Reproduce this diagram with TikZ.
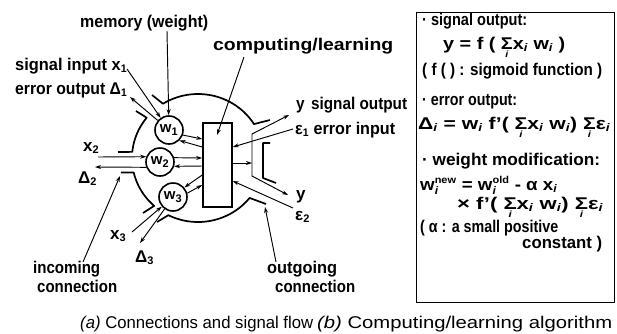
\documentclass[tikz,border=0pt]{standalone}
\usepackage{fontspec}
\setmainfont{Liberation Sans}
\usepackage{graphicx}
\usetikzlibrary{arrows.meta,calc}
\newsavebox\fitbox
\newcommand\fitto[2]{\sbox\fitbox{#2}\pgfmathsetmacro\fitratio{#1/\the\wd\fitbox}\scalebox{\fitratio}[1]{\usebox\fitbox}}
\newcommand\subf{\fontsize{11}{11}\selectfont}
\newcommand\sub[1]{$_{\hbox{\subf #1}}$}
\newcommand\isub{\sub{\itshape i}}
\newcommand\supsub[2]{$^{\hbox{\fontsize{10}{10}\selectfont #1}}_{\hbox{\subf\itshape #2}}$}
\newcommand\sumi{$\mathop{\hbox{\fontsize{17}{17}\selectfont Σ}}\limits_{\hbox{\fontsize{9}{9}\selectfont\itshape i}}$}
\begin{document}
\begin{tikzpicture}[x=1pt,y=-1pt,
  lbl/.style={inner sep=0pt, anchor=base west, font=\fontsize{17}{19}\selectfont\bfseries},
  captxt/.style={inner sep=0pt, anchor=base west, font=\fontsize{17}{19}\selectfont},
  contour/.style={line width=1.7pt, line join=round},
  arr/.style={line width=0.95pt, -{Stealth[length=6pt,width=4pt]}},
  arrb/.style={line width=0.95pt, {Stealth[length=6pt,width=4pt]}-{Stealth[length=6pt,width=4pt]}},
  wc/.style={circle, draw, line width=1.6pt, minimum size=28pt, inner sep=0pt, font=\fontsize{15}{17}\selectfont\bfseries}]
\fill[white] (0,0) rectangle (617,333);
\useasboundingbox (0,0) rectangle (617,333);

% ---------- neuron body ----------
\def\cx{198}\def\cy{158}\def\rx{66}\def\ry{64}
\draw[contour] (152,95) -- plot[domain=238:328, samples=40] ({\cx+\rx*cos(\x)},{\cy+\ry*sin(\x)}) -- (270,120);
\draw[contour] (266,204) -- plot[domain=38.6:116.7, samples=40] ({\cx+\rx*cos(\x)},{\cy+\ry*sin(\x)}) -- (157,222);
\draw[contour] (143,213) -- plot[domain=131.6:167, samples=20] ({\cx+\rx*cos(\x)},{\cy+\ry*sin(\x)}) -- (121,172.4);
\draw[contour] (118,152) -- plot[domain=185.5:219, samples=20] ({\cx+\rx*cos(\x)},{\cy+\ry*sin(\x)}) -- (136,111);
\draw[contour] (270,143) -- (263,143) -- (263,178) -- (276,183);

% ---------- weights and processor ----------
\node[wc] (w1) at (169,130) {w\sub{1}};
\node[wc] (w2) at (160,162) {w\sub{2}};
\node[wc] (w3) at (173,197) {w\sub{3}};
\node[draw, line width=1.6pt, minimum width=29pt, minimum height=84pt, inner sep=0pt] (cpu) at (217.5,165) {};

% ---------- labels ----------
\node[lbl] (mem) at (80,27) {\fitto{128}{memory (weight)}};
\node[lbl] (sin) at (15,70) {\fitto{112}{signal input x\sub{1}}};
\node[lbl] (eout) at (15,94) {\fitto{112}{error output Δ\sub{1}}};
\node[lbl] (comp) at (213,50) {\fitto{180}{computing/learning}};
\node[lbl] (x2) at (83,151) {x\sub{2}};
\node[lbl] (d2) at (78,183) {Δ\sub{2}};
\node[lbl] (x3) at (110,239) {x\sub{3}};
\node[lbl] (d3) at (135,262) {Δ\sub{3}};
\node[lbl] (inc1) at (33,273) {\fitto{67}{incoming}};
\node[lbl] (inc2) at (37,292) {\fitto{80}{connection}};
\node[lbl] (out1) at (267,273) {\fitto{70}{outgoing}};
\node[lbl] (out2) at (275,292) {\fitto{80}{connection}};
\node[lbl] (yo) at (296,109) {\fitto{111}{y\hspace{7pt}signal output}};
\node[lbl] (e1) at (295,134) {\fitto{100}{ε\sub{1} error input}};
\node[lbl] (y2) at (296,199) {y};
\node[lbl] (e2) at (295,220) {ε\sub{2}};

% ---------- connectors ----------
\coordinate (memt) at (167,31);
\coordinate (x1s) at (127,69);
\coordinate (d1e) at (130,97);
\coordinate (comps) at (244,57);
\coordinate (compt) at (217,135);
\coordinate (x2s) at (98,157);
\coordinate (d2e) at (95,167);
\coordinate (x3s) at (132,232);
\coordinate (d3e) at (140,243);
\coordinate (incs) at (83,262);
\coordinate (inct) at (120,176);
\coordinate (outs) at (276,262);
\coordinate (outt) at (265,207);
\coordinate (e1s) at (293,129);
\coordinate (e2s) at (293,208);
\coordinate (yup) at (289,115);
\coordinate (bt) at (252,134);
\coordinate (bb) at (252,176);
\coordinate (ylo) at (288,195);
\coordinate (mid) at ([yshift=2pt]cpu.east);

\draw[arr] (memt) -- (w1);
\draw[arr] (x1s) -- (w1);
\draw[arr] (w1) -- (d1e);
\draw[arr] (comps) -- (compt);
\draw[arr] (x2s) -- (w2.159);
\draw[arr] (w2.201) -- (d2e);
\draw[arr] (x3s) -- (w3);
\draw[arr] (w3.235) -- (d3e);
\draw[arr] (incs) -- (inct);
\draw[arr] (outs) -- (outt);

\draw[arr] (w1.-20) -- ([yshift=26pt]cpu.west);
\draw[arr] ([yshift=18pt]cpu.west) -- (w1.-45);
\draw[arr] (w2.17) -- ([yshift=7pt]cpu.west);
\draw[arr] ([yshift=-1pt]cpu.west) -- (w2.-17);
\draw[arr] ([yshift=-10pt]cpu.west) -- (w3.40);
\draw[arr] (w3.15) -- ([yshift=-20pt]cpu.west);

\draw[arr] (e1s) -- ([yshift=18pt]cpu.east);
\draw[arr] (e2s) -- ([yshift=-16pt]cpu.east);
\draw[arr] (mid) -- (mid -| bt);
\draw[arrb] (yup) -- (bt) -- (bb) -- (ylo);

% ---------- algorithm box ----------
\node[draw, line width=1.3pt, minimum width=198pt, minimum height=290pt, inner sep=0pt, anchor=north west] (box) at (416,12) {};
\node[lbl] (b1) at (422,25) {\fitto{105}{· signal output:}};
\node[lbl] (b2) at (443,49) {\fitto{122}{y = f ( \sumi x\isub\ w\isub\ )}};
\node[lbl] (b3) at (422,75) {\fitto{180}{( f ( ) : sigmoid function )}};
\node[lbl] (b4) at (422,105) {\fitto{95}{· error output:}};
\node[lbl] (b5) at (418,129) {\fitto{192}{Δ\isub\ = w\isub\ f'( \sumi x\isub\ w\isub ) \sumi ε\isub}};
\node[lbl] (b6) at (422,165) {\fitto{178}{· weight modification:}};
\node[lbl] (b7) at (420,190) {\fitto{137}{w\supsub{new}{i} = w\supsub{old}{i} - α x\isub}};
\node[lbl] (b8) at (457,209) {\fitto{146}{× f'( \sumi x\isub\ w\isub ) \sumi ε\isub}};
\node[lbl] (b9) at (420,232) {\fitto{138}{( α : a small positive}};
\node[lbl] (b10) at (522,248) {\fitto{80}{constant )}};

% ---------- captions ----------
\node[captxt] (ca) at (80,328) {\fitto{233}{\textit{(a)} Connections and signal flow}};
\node[captxt] (cb) at (317,328) {\fitto{295}{\textit{(b)} Computing/learning algorithm}};
\end{tikzpicture}
\end{document}
